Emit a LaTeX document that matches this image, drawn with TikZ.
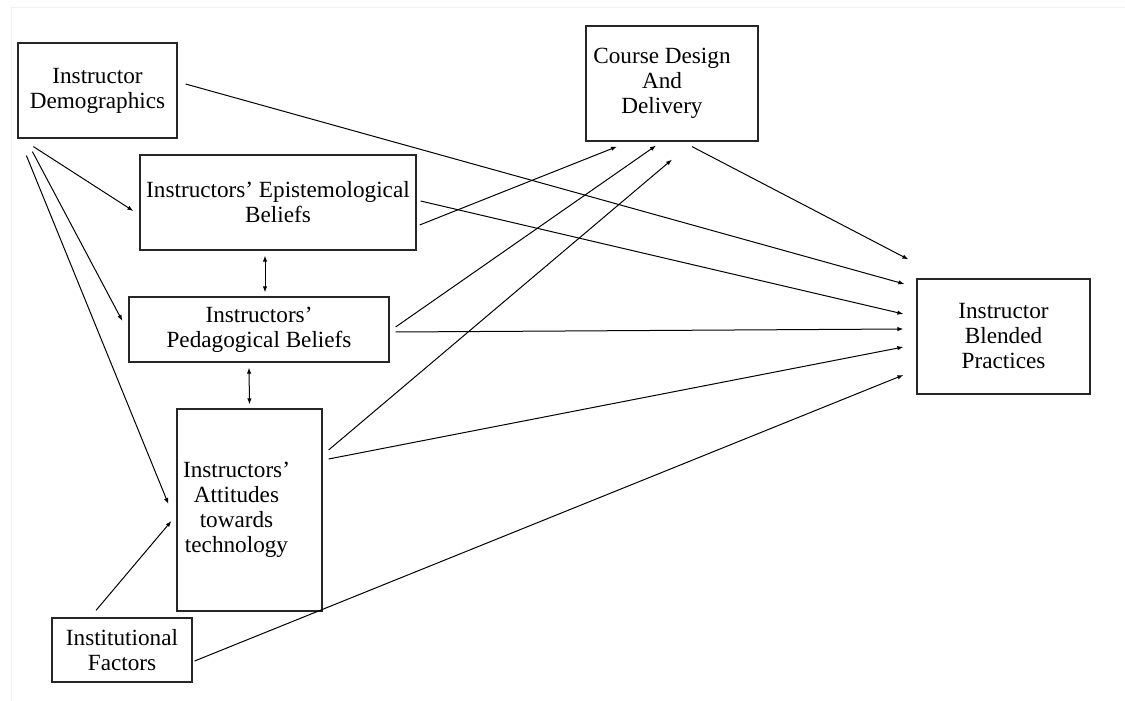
\documentclass[tikz,border=0pt]{standalone}
\usepackage{fontspec}
\setmainfont{Liberation Serif}
\usetikzlibrary{arrows.meta,positioning}
\tikzset{
  factor/.style = {draw=black!85, line width=0.6pt, rectangle, inner sep=2pt},
  link/.style   = {black, line width=0.5pt, -{Latex[length=3pt,width=2.2pt]}},
  twoway/.style = {black, line width=0.5pt, {Latex[length=3pt,width=2.2pt]}-{Latex[length=3pt,width=2.2pt]}},
}

\begin{document}
\begin{tikzpicture}[x=0.5pt,y=-0.5pt,font=\fontsize{11.6pt}{12.5pt}\selectfont]
      \useasboundingbox (0,0) rectangle (1125,701);
      \draw[black!6] (11,701) -- (11,7) -- (1125,7);

      % boxes
      \node[factor, align=center, minimum width=79.5pt, minimum height=47.5pt] (dem) at (97.5,90.5) {Instructor\\Demographics};
      \node[factor, align=center, minimum width=138pt, minimum height=47.5pt] (epi) at (278,202.5) {Instructors’ Epistemological\\Beliefs};
      \node[factor, align=center, minimum width=130pt, minimum height=32.5pt] (ped) at (259,329.5) {Instructors’\\Pedagogical Beliefs};
      \node[factor, minimum width=72.5pt, minimum height=101pt] (att) at (249.5,510) {\begin{tabular}{@{}c@{}}Instructors’\\Attitudes\\towards\\technology\end{tabular}\kern13pt};
      \node[factor, align=center, minimum width=70pt, minimum height=32pt] (inst) at (122,650) {Institutional\\Factors};
      \node[factor, minimum width=86pt, minimum height=57.5pt] (course) at (672,83.5) {\begin{tabular}{@{}c@{}}Course Design\\And\\Delivery\end{tabular}\kern10pt};
      \node[factor, align=center, minimum width=86.5pt, minimum height=57.5pt] (blend) at (1003.5,336.5) {Instructor\\Blended\\Practices};

      % paths
      \draw[link] ([shift={(16,8)}]dem.south west) -- ([shift={(-6,8.5)}]epi.west);
      \draw[link] ([shift={(15,13)}]dem.south west) -- ([shift={(-6,-8.5)}]ped.west);
      \draw[link] ([shift={(9,17)}]dem.south west) -- ([shift={(-8,-6)}]att.west);
      \draw[link] ([shift={(8,-6.5)}]dem.east) -- ([shift={(-12,-52.5)}]blend.west);
      \draw[link] ([shift={(3,22.5)}]epi.east) -- ([shift={(-55,5)}]course.south);
      \draw[link] ([shift={(4,-1.5)}]epi.east) -- ([shift={(-13,-22.5)}]blend.west);
      \draw[link] ([shift={(6,-2.5)}]ped.east) -- ([shift={(-16,4)}]course.south);
      \draw[link] ([shift={(6,2.5)}]ped.east) -- ([shift={(-13,-7.5)}]blend.west);
      \draw[link] ([shift={(6,-60)}]att.east) -- ([shift={(0,18)}]course.south);
      \draw[link] ([shift={(6,-51)}]att.east) -- ([shift={(-13,10.5)}]blend.west);
      \draw[link] ([shift={(-26,-7)}]inst.north) -- ([shift={(-5,11)}]att.west);
      \draw[link] ([shift={(2,11)}]inst.east) -- ([shift={(-13,38.5)}]blend.west);
      \draw[link] ([shift={(20,5)}]course.south) -- ([shift={(-8,-19)}]blend.north west);
      \draw[twoway] ([shift={(-13,5)}]epi.south) -- ([shift={(6,-4)}]ped.north);
      \draw[twoway] ([shift={(-10,5)}]ped.south) -- ([shift={(0,-4)}]att.north);
\end{tikzpicture}
\end{document}
